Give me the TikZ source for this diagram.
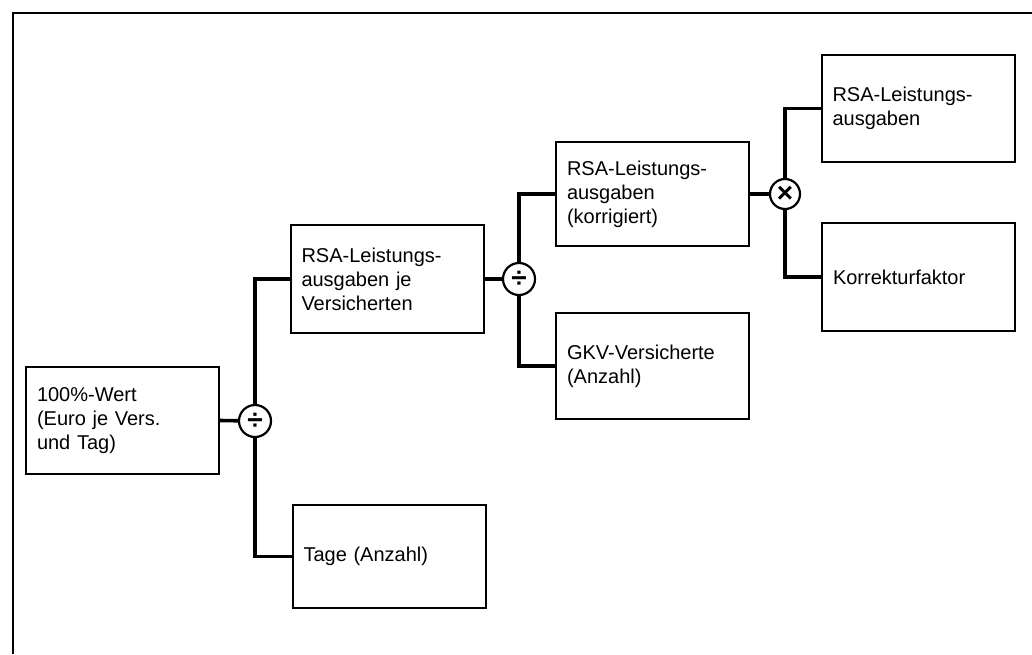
\documentclass[tikz,border=0pt]{standalone}
\usepackage{fontspec}
\setmainfont{Liberation Sans}
\begin{document}
\begin{tikzpicture}[x=1pt,y=-1pt,
  box/.style={draw=black, line width=2pt, fill=white, rectangle,
    minimum width=193pt, text width=171pt, inner xsep=11pt, inner ysep=0pt,
    align=left, font=\fontsize{20}{24}\selectfont},
  op/.style={draw=black, line width=2.2pt, fill=white, circle,
    minimum size=32pt, inner sep=0pt, font=\fontsize{28}{28}\selectfont\bfseries},
  conn/.style={line width=3.6pt, line cap=rect}]
\useasboundingbox (0,0) rectangle (1032,654);
\draw[line width=2.2pt] (1032,13) -- (13,13) -- (13,654);

\node[box, minimum height=107pt] (A) at (122.5,420.5) {100\%-Wert\\(Euro je Vers.\\und Tag)};
\node[box, minimum height=108pt] (B) at (387,279) {RSA-Leistungs-\\ausgaben je\\Versicherten};
\node[box, minimum height=103pt] (G) at (389,556.5) {Tage (Anzahl)};
\node[box, minimum height=104pt] (C) at (652.5,194) {RSA-Leistungs-\\ausgaben\\(korrigiert)};
\node[box, minimum height=106pt] (D) at (652.5,366) {GKV-Versicherte\\(Anzahl)};
\node[box, minimum height=107pt] (E) at (918,108.5) {RSA-Leistungs-\\ausgaben};
\node[box, minimum height=108pt] (F) at (918.5,277) {Korrekturfaktor};

\coordinate (c1) at (255,421);
\coordinate (c2) at (519,279);
\coordinate (c3) at (785,194);

\draw[conn] (A.east) -- (c1);
\draw[conn] (c1) |- (B.west);
\draw[conn] (c1) |- (G.west);
\draw[conn] (B.east) -- (c2);
\draw[conn] (c2) |- (C.west);
\draw[conn] (c2) |- (D.west);
\draw[conn] (C.east) -- (c3);
\draw[conn] (c3) |- (E.west);
\draw[conn] (c3) |- (F.west);

\node[op] (o1) at (c1) {÷};
\node[op] (o2) at (c2) {÷};
\node[op, minimum size=30pt] (o3) at (c3) {×};
\end{tikzpicture}
\end{document}
